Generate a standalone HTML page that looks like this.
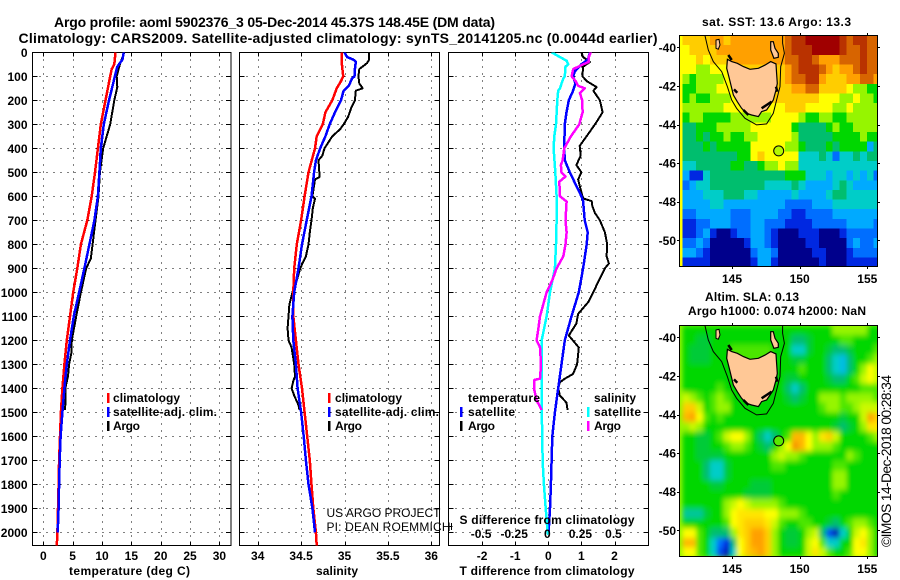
<!DOCTYPE html>
<html lang="en">
<head>
<meta charset="utf-8">
<title>Argo profile 5902376_3</title>
<style>
html,body{margin:0;padding:0;background:#fff;}
svg{display:block;}
text{font-family:"Liberation Sans",sans-serif;fill:#000;}
.b{font-weight:bold;font-size:12px;}
.t{font-weight:bold;font-size:14px;}
.r{font-weight:normal;font-size:12px;}
</style>
</head>
<body>
<svg id="chart" xmlns="http://www.w3.org/2000/svg" width="900" height="580" viewBox="0 0 900 580">
<defs>
<filter id="smooth" x="-5%" y="-5%" width="110%" height="110%"><feGaussianBlur stdDeviation="2.4 2.8"/></filter>
<clipPath id="clip-sst"><rect x="679.5" y="35.5" width="198" height="231"/></clipPath>
<clipPath id="clip-sla"><rect x="679.5" y="325.5" width="198" height="231"/></clipPath>
<clipPath id="clip-t"><rect x="32.5" y="52.5" width="198.5" height="493"/></clipPath>
<clipPath id="clip-s"><rect x="239.5" y="52.5" width="200" height="493"/></clipPath>
<clipPath id="clip-d"><rect x="448.5" y="52.5" width="200" height="493"/></clipPath>
</defs>
<rect x="0" y="0" width="900" height="580" fill="#fff"/>
<g id="g-panels"></g>
<g id="g-maps"></g>

<text class="t" x="54" y="27" textLength="441" lengthAdjust="spacing">Argo profile: aoml 5902376_3 05-Dec-2014 45.37S 148.45E (DM data)</text>
<text class="t" x="18.5" y="43" textLength="639" lengthAdjust="spacing">Climatology: CARS2009. Satellite-adjusted climatology: synTS_20141205.nc (0.0044d earlier)</text>

<text class="b" x="69" y="575" textLength="121" lengthAdjust="spacing">temperature (deg C)</text>
<text class="b" x="316" y="575" textLength="42" lengthAdjust="spacing">salinity</text>
<text class="b" x="459.5" y="575" textLength="175" lengthAdjust="spacing">T difference from climatology</text>
<text class="b" x="459.5" y="524" textLength="175" lengthAdjust="spacing">S difference from climatology</text>

<g>
<rect x="107" y="393" width="2.5" height="10" fill="#f00"/>
<rect x="107" y="407" width="2.5" height="10" fill="#00f"/>
<rect x="107" y="421" width="2.5" height="10" fill="#000"/>
<text class="b" x="113" y="402" textLength="67" lengthAdjust="spacing">climatology</text>
<text class="b" x="113" y="416" textLength="104" lengthAdjust="spacing">satellite-adj. clim.</text>
<text class="b" x="113" y="430" textLength="27" lengthAdjust="spacing">Argo</text>
</g>
<g>
<rect x="328" y="393" width="2.5" height="10" fill="#f00"/>
<rect x="328" y="407" width="2.5" height="10" fill="#00f"/>
<rect x="328" y="421" width="2.5" height="10" fill="#000"/>
<text class="b" x="335" y="402" textLength="67" lengthAdjust="spacing">climatology</text>
<text class="b" x="335" y="416" textLength="104" lengthAdjust="spacing">satellite-adj. clim.</text>
<text class="b" x="335" y="430" textLength="27" lengthAdjust="spacing">Argo</text>
</g>
<g>
<text class="b" x="468" y="402" textLength="72" lengthAdjust="spacing">temperature</text>
<text class="b" x="594" y="402" textLength="42" lengthAdjust="spacing">salinity</text>
<rect x="460" y="407" width="2.5" height="10" fill="#00f"/>
<rect x="460" y="421" width="2.5" height="10" fill="#000"/>
<rect x="587" y="407" width="2.5" height="10" fill="#0ff"/>
<rect x="587" y="421" width="2.5" height="10" fill="#f0f"/>
<text class="b" x="468" y="416" textLength="47" lengthAdjust="spacing">satellite</text>
<text class="b" x="468" y="430" textLength="27" lengthAdjust="spacing">Argo</text>
<text class="b" x="594" y="416" textLength="47" lengthAdjust="spacing">satellite</text>
<text class="b" x="594" y="430" textLength="27" lengthAdjust="spacing">Argo</text>
</g>

<text class="r" x="326.5" y="517" textLength="114" lengthAdjust="spacing">US ARGO PROJECT</text>
<text class="r" x="326.5" y="531" textLength="124" lengthAdjust="spacing">PI: DEAN ROEMMICH</text>

<path d="M448.5 526.5H452.5M451.5 523V530" fill="none" stroke="#000" stroke-width="1" shape-rendering="crispEdges"/>

<text class="b" x="702" y="26" textLength="149" lengthAdjust="spacing">sat. SST: 13.6 Argo: 13.3</text>
<text class="b" x="705" y="301" textLength="94" lengthAdjust="spacing">Altim. SLA: 0.13</text>
<text class="b" x="688" y="315" textLength="178" lengthAdjust="spacing">Argo h1000: 0.074 h2000: NaN</text>
<text transform="translate(891,547) rotate(-90)" font-size="14" textLength="172" lengthAdjust="spacing">©IMOS 14-Dec-2018 00:28:34</text>
</svg>

<script>
// ---- temperature panel data (deg C) ----
const climTDepth = [0,50,70,100,200,300,400,500,600,700,800,900,1000,1100,1200,1300,1400,1500,1600,1700,1800,1900,2000,2055];
const climT = [12.3,12.1,11.65,11.4,10.6,9.8,9.3,8.8,8.25,7.5,6.4,5.8,5.1,4.55,4.0,3.6,3.25,3.0,2.85,2.7,2.6,2.5,2.4,2.3];
const satTDepth = [0,30,60,100,200,300,400,500,600,700,800,900,1000,1100,1200,1300,1400,1500,1600,1700,1800,1900,2000];
const satT = [13.7,13.5,12.6,12.2,11.2,10.3,9.8,9.55,9.3,8.7,7.85,7.0,6.1,5.2,4.55,4.0,3.6,3.25,2.95,2.8,2.7,2.6,2.45];
const argoTDepth = [0,50,100,145,200,300,350,400,500,600,700,800,860,900,1000,1100,1200,1250,1300,1350,1400,1450,1490];
const argoT = [13.8,13.05,12.5,12.6,12.1,11.4,10.8,10.2,9.65,9.4,8.9,8.4,8.1,7.3,6.4,5.6,4.85,4.8,4.4,4.2,3.75,3.8,3.7];

// ---- salinity panel data ----
const climSDepth = [0,50,100,120,150,200,250,300,350,400,500,600,700,800,900,1000,1100,1200,1300,1400,1500,1600,1700,1800,1900,2000,2055];
const climS = [34.97,34.97,34.985,34.96,34.91,34.86,34.78,34.75,34.68,34.66,34.585,34.54,34.50,34.45,34.42,34.41,34.41,34.44,34.47,34.51,34.54,34.57,34.6,34.62,34.64,34.67,34.68];
const satSDepth = [0,20,30,40,70,100,110,140,160,200,250,300,350,400,450,500,600,700,800,900,1000,1100,1200,1300,1400,1500,1600,1700,1800,1900,2000];
const satS = [35.0,35.03,35.1,35.13,35.12,35.115,35.085,35.05,34.99,34.96,34.89,34.83,34.78,34.72,34.67,34.65,34.62,34.565,34.51,34.47,34.42,34.40,34.41,34.44,34.46,34.5,34.53,34.555,34.585,34.63,34.66];
const argoSDepth = [0,30,45,70,100,130,150,160,200,230,270,300,320,350,400,430,450,500,520,530,600,610,650,700,750,800,850,900,950,1000,1050,1100,1150,1200,1230,1300,1350,1370,1400,1430,1470,1490];
const argoS = [35.28,35.285,35.26,35.17,35.16,35.17,35.21,35.13,35.12,35.08,35.04,34.99,34.95,34.86,34.77,34.745,34.7,34.71,34.71,34.66,34.63,34.66,34.635,34.62,34.6,34.585,34.555,34.49,34.45,34.4,34.365,34.355,34.345,34.355,34.39,34.42,34.43,34.41,34.39,34.42,34.47,34.48];

// ---- difference panel data ----
const diffSatTDepth = [0,30,50,80,100,130,160,200,250,300,400,450,500,600,620,700,750,800,900,1000,1100,1200,1300,1400,1500,1600,1700,1800,1900,2000];
const diffSatT = [1.26,1.2,1.0,0.8,0.75,0.82,0.75,0.62,0.55,0.5,0.48,0.5,0.65,1.0,1.05,1.1,1.19,1.16,1.05,0.92,0.70,0.5,0.4,0.3,0.2,0.12,0.1,0.08,0.05,0.01];
const diffArgoTDepth = [0,20,40,60,100,120,145,160,200,250,290,330,390,430,470,500,530,600,610,620,640,670,700,750,800,850,880,900,950,1000,1040,1090,1130,1180,1230,1300,1340,1360,1375,1400,1430,1460,1490];
const diffArgoT = [1.0,1.05,1.26,1.05,1.03,1.16,1.46,1.36,1.56,1.64,1.46,1.26,0.95,0.98,0.85,1.0,0.9,1.03,1.08,1.31,1.33,1.41,1.56,1.71,1.78,1.76,1.83,1.71,1.53,1.36,1.21,0.9,0.85,0.62,0.92,0.87,0.75,0.5,0.35,0.3,0.35,0.55,0.58];
const diffSatSDepth = [0,20,35,50,60,100,110,130,150,160,200,300,350,400,500,600,700,800,900,1000,1100,1200,1300,1400,1500,1600,1700,1800,1900,2000,2010];
const diffSatS = [0.025,0.088,0.138,0.15,0.13,0.125,0.113,0.10,0.088,0.075,0.068,0.058,0.045,0.04,0.053,0.063,0.063,0.058,0.05,0.013,-0.013,-0.05,-0.05,-0.05,-0.05,-0.045,-0.043,-0.033,-0.02,-0.005,0];
const diffArgoSDepth = [0,20,40,50,70,100,120,140,150,170,180,200,250,290,300,350,400,450,470,500,518,539,600,622,700,750,800,850,900,950,1000,1050,1100,1150,1200,1230,1300,1360,1365,1400,1450,1490];
const diffArgoS = [0.32,0.306,0.306,0.264,0.188,0.176,0.206,0.226,0.276,0.239,0.245,0.256,0.259,0.239,0.234,0.171,0.121,0.108,0.095,0.10,0.13,0.083,0.088,0.138,0.13,0.138,0.13,0.113,0.063,0.03,-0.013,-0.038,-0.063,-0.075,-0.088,-0.063,-0.055,-0.063,-0.105,-0.108,-0.088,-0.05];

// ---- tick labels ----
const depthTicks = [0,100,200,300,400,500,600,700,800,900,1000,1100,1200,1300,1400,1500,1600,1700,1800,1900,2000];
const tempTicks = [0,5,10,15,20,25,30];
const salTicks = [34,34.5,35,35.5,36];
const salTickLabels = ["34","34.5","35","35.5","36"];
const diffTicks = [-2,-1,0,1,2];
const sDiffTicks = [-0.5,-0.25,0,0.25,0.5];
const sDiffTickLabels = ["-0.5","-0.25","0","0.25","0.5"];
const latTicks = [-40,-42,-44,-46,-48,-50];
const lonTicks = [145,150,155];

// ---- map data: colour-scale levels on half-degree cells, north to south ----
const sstLevels = [
[9,9,9,9,10,10,9,10,10,10,10,10,10,10,10,11,12,12,13,13,13,13,13,12,11,12,12,11,11],
[8,9,9,9,9,10,10,10,10,10,10,10,10,10,10,11,12,12,12,13,13,13,13,12,11,11,12,11,11],
[8,8,9,8,9,9,9,10,10,10,10,10,10,10,10,11,11,12,12,11,10,10,10,11,11,11,12,11,11],
[8,8,7,7,8,8,8,9,9,9,9,9,9,9,9,10,11,12,12,12,11,10,9,10,10,11,12,11,11],
[7,6,7,7,7,7,8,8,9,9,9,9,9,9,9,10,11,11,12,12,10,9,9,9,10,10,11,11,10],
[6,6,7,7,7,8,8,8,9,9,9,9,9,9,9,9,10,10,11,11,9,9,9,9,8,7,7,6,6],
[6,7,6,6,7,7,7,8,8,9,9,9,9,9,9,9,9,9,9,9,8,8,8,7,7,8,7,7,6],
[7,7,7,7,7,7,8,8,8,8,8,8,8,8,8,9,9,9,8,8,8,8,7,7,8,7,7,7,7],
[6,7,7,6,6,6,6,7,7,7,7,7,7,8,8,8,8,7,6,6,7,7,6,6,7,7,7,7,7],
[5,5,6,6,6,7,7,7,7,7,8,8,8,8,8,8,6,5,5,5,5,6,7,6,6,7,7,7,7],
[5,5,6,5,6,6,7,6,6,7,7,8,8,8,8,8,7,5,5,5,5,5,6,6,6,6,7,6,6],
[5,5,5,6,5,6,6,6,6,6,8,8,8,8,8,7,7,6,5,5,5,6,5,6,6,6,6,3,5],
[5,5,5,5,5,5,5,5,6,6,8,9,8,8,8,8,8,4,4,4,5,4,2,4,4,5,4,5,5],
[4,4,5,5,5,5,5,6,6,5,5,6,7,7,8,7,7,4,4,4,4,4,4,4,4,4,4,4,4],
[3,1,1,4,5,5,5,5,5,5,5,5,5,5,5,6,6,6,4,4,4,3,4,4,3,4,3,4,2],
[2,3,4,4,5,5,5,5,5,5,5,5,4,4,4,4,5,4,3,3,3,3,4,5,4,3,3,3,3],
[3,3,3,4,4,4,5,5,5,4,4,3,3,3,3,3,4,3,3,3,3,4,5,5,4,4,4,4,4],
[3,3,3,3,4,4,3,3,3,3,3,3,3,3,3,2,2,2,2,3,3,3,4,4,4,4,4,4,4],
[2,2,3,3,3,3,3,2,2,2,3,3,3,3,2,2,1,1,2,2,2,2,3,3,3,3,3,3,3],
[1,1,2,2,3,3,3,2,2,2,3,3,2,2,2,1,1,1,1,2,2,2,2,2,3,3,3,3,2],
[1,1,2,3,1,0,0,1,2,2,3,3,2,1,0,0,0,1,1,1,0,0,0,1,2,2,2,2,2],
[2,2,3,2,0,0,0,0,0,1,3,3,2,1,0,0,0,0,1,1,0,0,0,0,2,3,2,2,3],
[3,3,2,1,0,0,0,0,0,0,2,3,3,2,0,0,0,0,0,1,1,0,0,0,1,2,2,2,2],
[1,1,1,1,0,0,0,0,0,0,1,3,3,1,0,0,0,0,0,0,1,0,0,0,1,1,1,1,1]
];
const slaLevels = [
[6,6,6,6,6,6,6,6,6,6,6,6,6,6,6,6,6,6,6,6,6,6,7,7,7,7,7,6,6],
[6,6,5.5,5.5,6,6,6,6,6,6,6,6,6,6,6,6,5,5,5.5,6,6,6,6,6.5,6.5,6,6,6,6],
[6,5.5,5.5,5.5,6,6,6,6.5,6.5,6.5,6.5,6.5,6.5,6,6,6,4,4,5.5,6,6,5.5,5,5,5.5,6,6,6,6.5],
[6,5.5,5.5,5.5,6,6,6,6.5,6.5,6.5,6.5,6.5,6.5,6,6,6,5.5,5.5,6,6,6,5,4,3.5,5,6,6,6.5,7],
[6,6,6,6,6,6,6,6,6,6,6,6,6,6,6,6,6,6.5,6,6,6,5,4,3.5,5,6,7,8,7.5],
[6,6,6,6,6,6,6,6,6,6,6,6,6,6,6,5.5,5.5,6,6,6,6,5.5,5,5,6,6.5,7.5,8,7.5],
[6,6,6,6,6,6.5,6,6,6,6,6,6,6,6,6,5,4,5,6,6,6,6,6,6,6,6,6.5,6.5,6.5],
[7.5,7,6.5,6,6.5,7,6.5,6,6,6,6,6,6,6,6,5.5,5,5.5,6,6,7,7,7,6.5,7,7,7,7,6.5],
[9,9,7.5,6,6.5,7,7,6,6,6,6,6,6,6,6,6,6,6,6,6,6.5,7,7,6.5,6.5,7,7.5,7.5,7.5],
[9.5,10,8,6.5,6,6.5,6,6,6,6,6,6,6,6,6,6,6,6,6,6,6,6,6,5.5,6,6,7.5,10,9],
[7,7.5,7,6,6,6,6,6,6,6,6,6,6,6,6,6,6,6,6,6,6,6,5.5,5,5.5,6,7,8.5,8.5],
[6,6,5.5,5.5,6,6.5,7.5,8,8,7,6,5,4,5,6,6.5,9.5,9.5,8,7,8.5,9,7.5,6,6,6,6,6.5,7],
[6,6,5.5,5.5,6,6,6.5,7,7,6.5,6,5.5,5,6,7,8,10.2,9.5,8,7,7,7,6.5,6,6,6,6,6,6],
[6,6,5.5,5.5,5.5,5.5,6,6,6,6,6,6,6,7,7.5,7,7,6.5,6,6,6,6,6,6,7,6.5,6,6,6],
[6,6,6,5,4,4,5.5,6,6,6,6,6,6,6.5,6.5,6,6,6,6,6,6,6,6.5,6.5,6,6,6,6,6],
[6,6,6,5,4,4,5.5,6,6,6,6,6,6,6,6,6,6,6,6,6,6,6,7,7,6,6,6,6,6],
[6,6,6,6,5.5,5.5,6,6,6,6,5.5,5.5,5.5,6,6,6,6,6,6,6,6,6,7,7,6,6,6,6,6],
[6,6,6,6,6,6,6,6,6,5.5,5.5,5.5,5.5,6,6,6,6,6,6,6,6,6,6.5,6,6,6,6,6,6],
[6,6,6,6,6,6,7,7.5,8,7.5,7,7,7,7,6.5,6,6,6,6,6,6,6,6,6,6,6,6,6,6],
[4.5,4.5,4.5,5.5,6,6,7,8,8.5,8.5,8.5,8.5,8,8,7,7,7,6.5,6,6,6,6,6,6,6,6,6,6,6],
[6,6,6,6,6,6,6.5,8,8.5,9,9,9,8.5,7.5,6.5,6,6,6.5,6.5,6,6,5.5,5,6,6.5,7,7,6.5,6],
[8,8,6.5,6,5,5,5,7,8.5,9,10,10,9,7,6,5.5,5.5,6,7,7.5,5,1.5,0.5,4,6,7.5,8,7,6],
[9.5,9.5,6.5,6,4,2,1,5,8,9,10,10,9,7,6,5.5,5.5,6,7.5,8,6.5,4,4,6,6,8,8.5,7,6],
[8,8,6.5,6,4,1.5,0.5,4,8,9,9.5,10,9,7,6,6,6,6,7.5,8.5,7.5,6.5,6,6,6.5,8,8,7,6]
];

// ---- geography (lon, lat) ----
const tasmaniaLon = [144.66,144.98,145.39,145.84,146.33,146.95,147.44,147.86,148.25,148.30,148.35,148.25,148.05,147.81,147.56,147.19,146.95,146.45,146.08,145.71,145.39,145.10,144.98,144.80,144.61];
const tasmaniaLat = [-40.62,-40.74,-40.83,-41.00,-41.14,-41.09,-40.92,-40.74,-40.86,-41.35,-41.87,-42.21,-42.73,-42.99,-43.25,-43.33,-43.59,-43.51,-43.42,-43.16,-42.82,-42.47,-42.12,-41.61,-41.09];
const kingIslandLon = [143.82,144.04,144.11,143.99,143.82];
const kingIslandLat = [-39.62,-39.59,-39.88,-40.10,-40.05];
const flindersLon = [147.86,148.05,148.18,148.42,148.42,148.10,147.86];
const flindersLat = [-39.71,-39.71,-40.05,-40.31,-40.52,-40.57,-40.14];
const contourLon = [143.0,143.25,143.62,144.24,144.66,144.98,145.34,145.96,146.82,147.56,148.05,148.30,148.55,148.60,148.87,148.74,148.74];
const contourLat = [-39.38,-40.14,-40.74,-41.26,-42.04,-42.73,-43.16,-43.68,-44.02,-43.97,-43.42,-42.73,-42.04,-41.0,-40.31,-39.79,-39.38];
const inletLons = [[145.15,145.39],[147.19,147.56,147.93],[148.25,148.35],[145.84,146.21],[144.73,144.98]];
const inletLats = [[-42.18,-42.35],[-43.16,-42.99,-42.82],[-42.04,-42.30],[-43.25,-43.51],[-40.40,-40.66]];
const argoLon = 148.45;
const argoLat = -45.37;
const argoSstLevel = 7.3;
const argoSlaLevel = 6.6;

// ---- colour scale ----
const levelColors = [[0,0,140],[0,40,225],[0,110,255],[0,170,255],[0,205,200],[0,190,110],[0,215,0],[150,245,0],[255,255,0],[255,205,0],[255,160,0],[215,100,0],[185,50,0],[160,0,0]];
function levelColor(v){
  const c = Math.max(0, Math.min(levelColors.length - 1, v));
  const i = Math.min(levelColors.length - 2, Math.floor(c));
  const f = c - i;
  const a = levelColors[i], b = levelColors[i + 1];
  return 'rgb(' + [0,1,2].map(k => Math.round(a[k] + (b[k] - a[k]) * f)).join(',') + ')';
}

const NS = 'http://www.w3.org/2000/svg';
function mk(tag, parent, attrs, txt){
  const el = document.createElementNS(NS, tag);
  for (const k in attrs) el.setAttribute(k, attrs[k]);
  if (txt !== undefined) el.textContent = txt;
  parent.appendChild(el);
  return el;
}

// ---- axis functions ----
const PANEL_TOP = 52.5, PANEL_BOTTOM = 545.5;
const depthY = d => 52.3 + d * 0.24;
const tempX = v => 43.3 + v * 5.87;
const salX = v => 257.7 + (v - 34) * 86.8;
const diffX = v => 548.3 + v * 33.1;
const sDiffX = v => 548.3 + v * 132.4;
const lonX = lon => 732 + (lon - 145) * 13.53;
const latY = (lat, off) => 47.3 + (-40 - lat) * 19.3 + off;

const panelsG = document.getElementById('g-panels');
const mapsG = document.getElementById('g-maps');

function drawProfile(parent, clip, depths, values, xf, color, width, name){
  const pts = values.map((v, i) => xf(v).toFixed(1) + ',' + depthY(depths[i]).toFixed(1)).join(' ');
  const line = mk('polyline', parent, {points: pts, fill: 'none', stroke: color, 'stroke-width': width, 'clip-path': 'url(#' + clip + ')', 'stroke-linejoin': 'round', 'shape-rendering': 'crispEdges'});
  
  
}

function drawPanel(name, left, right, xTicks, xf, labelList, clip){
  const g = mk('g', panelsG, {});
  
  
  xTicks.forEach(t => {
    const x = Math.round(xf(t)) + 0.5;
    const grid = mk('line', g, {x1: x, x2: x, y1: PANEL_TOP, y2: PANEL_BOTTOM, stroke: '#000', 'stroke-width': 1, 'stroke-dasharray': '1 6', 'shape-rendering': 'crispEdges'});
    
    
    const tickTop = mk('line', g, {x1: x, x2: x, y1: PANEL_TOP, y2: PANEL_TOP + 4, stroke: '#000', 'shape-rendering': 'crispEdges'});
    
    
    const tickBottom = mk('line', g, {x1: x, x2: x, y1: PANEL_BOTTOM - 4, y2: PANEL_BOTTOM, stroke: '#000', 'shape-rendering': 'crispEdges'});
    
    
  });
  depthTicks.forEach(d => {
    if (d === 0) return;
    const y = Math.round(depthY(d)) + 0.5;
    const grid = mk('line', g, {x1: left, x2: right, y1: y, y2: y, stroke: '#000', 'stroke-width': 1, 'stroke-dasharray': '1 6', 'shape-rendering': 'crispEdges'});
    
    
    const tickL = mk('line', g, {x1: left, x2: left + 5, y1: y, y2: y, stroke: '#000', 'shape-rendering': 'crispEdges'});
    
    
    const tickR = mk('line', g, {x1: right - 5, x2: right, y1: y, y2: y, stroke: '#000', 'shape-rendering': 'crispEdges'});
    
    
  });
  const frame = mk('rect', g, {x: left, y: PANEL_TOP, width: right - left, height: PANEL_BOTTOM - PANEL_TOP, fill: 'none', stroke: '#000', 'stroke-width': 1, 'shape-rendering': 'crispEdges'});
  
  
  xTicks.forEach((t, i) => {
    const lab = mk('text', g, {class: 'b', x: xf(t), y: 560, 'text-anchor': 'middle'}, labelList[i]);
    
    
  });
  return g;
}

// temperature panel
const gT = drawPanel('temperature-panel', 32.5, 231, tempTicks, tempX, tempTicks.map(String), 'clip-t');
depthTicks.forEach(d => {
  const lab = mk('text', gT, {class: 'b', x: 27.5, y: depthY(d) + 4.5, 'text-anchor': 'end'}, String(d));
  
  
});
drawProfile(gT, 'clip-t', argoTDepth, argoT, tempX, '#000', 2, 'argo-temperature-line');
drawProfile(gT, 'clip-t', climTDepth, climT, tempX, '#f00', 2.5, 'climatology-temperature-line');
drawProfile(gT, 'clip-t', satTDepth, satT, tempX, '#00f', 2.5, 'satellite-temperature-line');

// salinity panel
const gS = drawPanel('salinity-panel', 239.5, 439.5, salTicks, salX, salTickLabels, 'clip-s');
drawProfile(gS, 'clip-s', argoSDepth, argoS, salX, '#000', 2, 'argo-salinity-line');
drawProfile(gS, 'clip-s', climSDepth, climS, salX, '#f00', 2.5, 'climatology-salinity-line');
drawProfile(gS, 'clip-s', satSDepth, satS, salX, '#00f', 2.5, 'satellite-salinity-line');

// difference panel
const gD = drawPanel('difference-panel', 448.5, 648.5, diffTicks, diffX, diffTicks.map(String), 'clip-d');
drawProfile(gD, 'clip-d', diffArgoTDepth, diffArgoT, diffX, '#000', 2, 'argo-t-difference-line');
drawProfile(gD, 'clip-d', diffSatTDepth, diffSatT, diffX, '#00f', 2.5, 'satellite-t-difference-line');
drawProfile(gD, 'clip-d', diffSatSDepth, diffSatS, sDiffX, '#0ff', 2.5, 'satellite-s-difference-line');
drawProfile(gD, 'clip-d', diffArgoSDepth, diffArgoS, sDiffX, '#f0f', 2.5, 'argo-s-difference-line');
sDiffTicks.forEach((t, i) => {
  const lab = mk('text', gD, {class: 'b', x: sDiffX(t) - 1, y: 538, 'text-anchor': 'middle'}, sDiffTickLabels[i]);
  
  
});

// maps
const LON_MIN = 141.34, LON_MAX = 155.97, LAT_MAX = -39.39, LAT_MIN = -51.39;

function drawMap(name, levels, off, clipId, smooth, argoLevel){
  const g = mk('g', mapsG, {});
  
  
  const clipG = mk('g', g, {'clip-path': 'url(#' + clipId + ')'});
  const base = mk('rect', clipG, {x: 679, y: latY(LAT_MAX, off), width: 199, height: 232, fill: levelColor(levels[12][14])});
  
  
  const cells = mk('g', clipG, smooth ? {filter: 'url(#smooth)'} : {});
  const dLon = (LON_MAX - LON_MIN) / levels[0].length;
  const dLat = (LAT_MAX - LAT_MIN) / levels.length;
  levels.forEach((row, r) => {
    row.forEach((v, c) => {
      const x0 = lonX(LON_MIN + c * dLon), x1 = lonX(LON_MIN + (c + 1) * dLon);
      const y0 = latY(LAT_MAX - r * dLat, off), y1 = latY(LAT_MAX - (r + 1) * dLat, off);
      const cell = mk('rect', cells, {x: x0.toFixed(2), y: y0.toFixed(2), width: (x1 - x0 + 0.4).toFixed(2), height: (y1 - y0 + 0.4).toFixed(2), fill: levelColor(v), 'shape-rendering': 'crispEdges'});
      
      
    });
  });
  const toPts = (lons, lats) => lons.map((lon, i) => lonX(lon).toFixed(1) + ',' + latY(lats[i], off).toFixed(1)).join(' ');
  const contour = mk('polyline', clipG, {points: toPts(contourLon, contourLat), fill: 'none', stroke: '#000', 'stroke-width': 1});
  
  
  const tas = mk('polygon', clipG, {points: toPts(tasmaniaLon, tasmaniaLat), fill: '#ffc896', stroke: '#000', 'stroke-width': 1.2});
  
  
  const king = mk('polygon', clipG, {points: toPts(kingIslandLon, kingIslandLat), fill: '#ffc896', stroke: '#000', 'stroke-width': 1});
  
  
  const flinders = mk('polygon', clipG, {points: toPts(flindersLon, flindersLat), fill: '#ffc896', stroke: '#000', 'stroke-width': 1.2});
  
  
  inletLons.forEach((lons, i) => {
    const inlet = mk('polyline', clipG, {points: toPts(lons, inletLats[i]), fill: 'none', stroke: '#000', 'stroke-width': 2.5});
    
    
  });
  const pt = mk('circle', clipG, {cx: lonX(argoLon).toFixed(1), cy: latY(argoLat, off).toFixed(1), r: 5, fill: levelColor(argoLevel), stroke: '#000', 'stroke-width': 1});
  
  
  const frame = mk('rect', g, {x: 679.5, y: off + 35.5, width: 198, height: 231, fill: 'none', stroke: '#000', 'stroke-width': 1, 'shape-rendering': 'crispEdges'});
  
  
  lonTicks.forEach(lon => {
    const x = Math.round(lonX(lon)) + 0.5;
    const t1 = mk('line', g, {x1: x, x2: x, y1: off + 33, y2: off + 35.5, stroke: '#000', 'shape-rendering': 'crispEdges'});
    
    
    const t2 = mk('line', g, {x1: x, x2: x, y1: off + 266.5, y2: off + 269, stroke: '#000', 'shape-rendering': 'crispEdges'});
    
    
    const lab = mk('text', g, {class: 'b', x: lonX(lon), y: off + 283, 'text-anchor': 'middle'}, String(lon));
    
    
  });
  latTicks.forEach(lat => {
    const y = Math.round(latY(lat, off)) + 0.5;
    const t1 = mk('line', g, {x1: 677, x2: 679.5, y1: y, y2: y, stroke: '#000', 'shape-rendering': 'crispEdges'});
    
    
    const t2 = mk('line', g, {x1: 877.5, x2: 880, y1: y, y2: y, stroke: '#000', 'shape-rendering': 'crispEdges'});
    
    
    const lab = mk('text', g, {class: 'b', x: 676, y: latY(lat, off) + 4.5, 'text-anchor': 'end'}, String(lat));
    
    
  });
}

drawMap('sst-map', sstLevels, 0, 'clip-sst', false, argoSstLevel);
drawMap('sla-map', slaLevels, 290, 'clip-sla', true, argoSlaLevel);
</script>
</body>
</html>
